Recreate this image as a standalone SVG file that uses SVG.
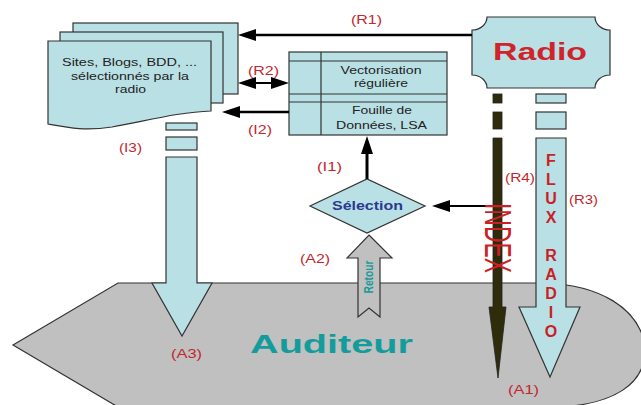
<svg xmlns="http://www.w3.org/2000/svg" width="641" height="405" viewBox="0 0 641 405">
<defs>
<style>
.sh{fill:#b9e0e4;stroke:#333;stroke-width:1.2}
.tx{font-family:"Liberation Sans",Arial,sans-serif;font-size:11px;fill:#222;text-anchor:middle}
.lb{font-family:"Liberation Sans",Arial,sans-serif;font-size:13px;fill:#c1272d;text-anchor:middle}
.ln{fill:none;stroke:#000;stroke-width:2.5}
</style>
<marker id="ah" markerUnits="userSpaceOnUse" markerWidth="18" markerHeight="12" refX="8" refY="6" orient="auto-start-reverse">
<path d="M0,0 L18,6 L0,12 Z" fill="#000"/>
</marker>
</defs>
<rect width="641" height="405" fill="#fff"/>

<g id="auditeur">
<path d="M13,345 L118,283 L545,283 C600,285 638,308 645,345 C648,385 612,404 560,407 L118,407 Z" fill="#c0c0c0" stroke="#333" stroke-width="1.2"/>
<text x="331.5" y="353" textLength="163" lengthAdjust="spacingAndGlyphs" style="font-family:'Liberation Sans',Arial,sans-serif;font-size:25px;font-weight:bold;fill:#149c9c;text-anchor:middle">Auditeur</text>
</g>

<g id="documents">
<rect class="sh" x="73" y="23" width="165" height="71"/>
<rect class="sh" x="60" y="32" width="163" height="71"/>
<path class="sh" d="M48,41 H211 V111 C180,112 150,120 112,127 C85,131 70,128 48,124 Z"/>
<text class="tx" x="129.5" y="66" textLength="135" lengthAdjust="spacingAndGlyphs">Sites, Blogs, BDD, ...</text>
<text class="tx" x="130" y="80" textLength="118" lengthAdjust="spacingAndGlyphs">sélectionnés par la</text>
<text class="tx" x="130.5" y="93" textLength="31" lengthAdjust="spacingAndGlyphs">radio</text>
</g>

<g id="traitement">
<rect class="sh" x="289" y="52" width="158" height="83"/>
<path d="M321,52 V135 M289,61 H447 M289,94 H447 M289,102 H447" stroke="#333" stroke-width="1.2" fill="none"/>
<text class="tx" x="381" y="74" textLength="81" lengthAdjust="spacingAndGlyphs">Vectorisation</text>
<text class="tx" x="381" y="87" textLength="54" lengthAdjust="spacingAndGlyphs">régulière</text>
<text class="tx" x="382" y="114" textLength="60" lengthAdjust="spacingAndGlyphs">Fouille de</text>
<text class="tx" x="381.5" y="129" textLength="91" lengthAdjust="spacingAndGlyphs">Données, LSA</text>
</g>

<g id="radio">
<path class="sh" d="M487,17 H595 A15,13 0 0 0 610,30 V75 A15,13 0 0 0 595,88 H487 A15,13 0 0 0 472,75 V30 A15,13 0 0 0 487,17 Z"/>
<text x="540" y="60" textLength="94" lengthAdjust="spacingAndGlyphs" style="font-family:'Liberation Sans',Arial,sans-serif;font-size:24px;font-weight:bold;fill:#d0232a;text-anchor:middle">Radio</text>
</g>

<g id="selection">
<path class="sh" d="M310,206 L367,179 L425,206 L367,233 Z"/>
<text x="367.5" y="210" textLength="71" lengthAdjust="spacingAndGlyphs" style="font-family:'Liberation Sans',Arial,sans-serif;font-size:12px;font-weight:bold;fill:#2b3990;text-anchor:middle">Sélection</text>
</g>

<g id="connectors">
<path class="ln" d="M472,35 H248" marker-end="url(#ah)"/>
<path class="ln" d="M248,83 H279" marker-start="url(#ah)" marker-end="url(#ah)" style="stroke-width:2"/>
<path class="ln" d="M289,112 H232" marker-end="url(#ah)"/>
<path class="ln" d="M367,179 V146" marker-end="url(#ah)" style="stroke-width:3"/>
<path class="ln" d="M493,206 H442" marker-end="url(#ah)" style="stroke-width:2"/>

<g id="fleche-i3">
<rect class="sh" x="166" y="123" width="31" height="7"/>
<rect class="sh" x="166" y="137" width="31" height="13"/>
<path class="sh" d="M166,157 H197 V283 H212 L182,336 L152,283 H166 Z"/>
</g>

<g id="fleche-retour">
<path d="M369,235 L392,258 H380 V317 L369,308 L358,317 V258 H347 Z" fill="#c0c0c0" stroke="#333" stroke-width="1.2"/>
<text transform="translate(368,277) rotate(-90)" x="0" y="4.5" textLength="33" lengthAdjust="spacingAndGlyphs" style="font-family:'Liberation Sans',Arial,sans-serif;font-size:12px;font-weight:bold;fill:#1a9a9a;text-anchor:middle">Retour</text>
</g>

<g id="fleche-index">
<rect x="493" y="94" width="9" height="9" fill="#2f2c0c" stroke="#222" stroke-width="0.8"/>
<rect x="493" y="112" width="9" height="17" fill="#2f2c0c" stroke="#222" stroke-width="0.8"/>
<path d="M493,138 H502 V307 H506 L498,378 L489,307 H493 Z" fill="#2f2c0c" stroke="#222" stroke-width="0.8"/>
<text transform="translate(498,238) rotate(90)" x="0" y="13" textLength="70" lengthAdjust="spacingAndGlyphs" style="font-family:'Liberation Sans',Arial,sans-serif;font-size:36px;fill:#cc1f26;text-anchor:middle">INDEX</text>
</g>

<g id="fleche-flux">
<rect class="sh" x="536" y="94" width="30" height="9"/>
<rect class="sh" x="536" y="112" width="30" height="17"/>
<path class="sh" d="M536,138 H566 V307 H580 L550,377 L519,307 H536 Z"/>
<g style="font-family:'Liberation Sans',Arial,sans-serif;font-size:16px;font-weight:bold;fill:#c91f26;text-anchor:middle">
<text x="551" y="165.5">F</text>
<text x="551" y="184.5">L</text>
<text x="551" y="203.5">U</text>
<text x="551" y="222.5">X</text>
<text x="551" y="260.5">R</text>
<text x="551" y="279.5">A</text>
<text x="551" y="298.5">D</text>
<text x="551" y="317.5">I</text>
<text x="551" y="336.5">O</text>
</g>
</g>
</g>

<g id="labels">
<text class="lb" x="366.5" y="24" textLength="31" lengthAdjust="spacingAndGlyphs">(R1)</text>
<text class="lb" x="263.5" y="75" textLength="31" lengthAdjust="spacingAndGlyphs">(R2)</text>
<text class="lb" x="260" y="134" textLength="24" lengthAdjust="spacingAndGlyphs">(I2)</text>
<text class="lb" x="130.5" y="152" textLength="23" lengthAdjust="spacingAndGlyphs">(I3)</text>
<text class="lb" x="329.5" y="171" textLength="25" lengthAdjust="spacingAndGlyphs">(I1)</text>
<text class="lb" x="315" y="263" textLength="30" lengthAdjust="spacingAndGlyphs">(A2)</text>
<text class="lb" x="186.5" y="358" textLength="31" lengthAdjust="spacingAndGlyphs" style="font-size:12px">(A3)</text>
<text class="lb" x="523.5" y="394" textLength="31" lengthAdjust="spacingAndGlyphs">(A1)</text>
<text class="lb" x="520" y="182" textLength="30" lengthAdjust="spacingAndGlyphs">(R4)</text>
<text class="lb" x="583.5" y="204" textLength="29" lengthAdjust="spacingAndGlyphs">(R3)</text>
</g>
</svg>
